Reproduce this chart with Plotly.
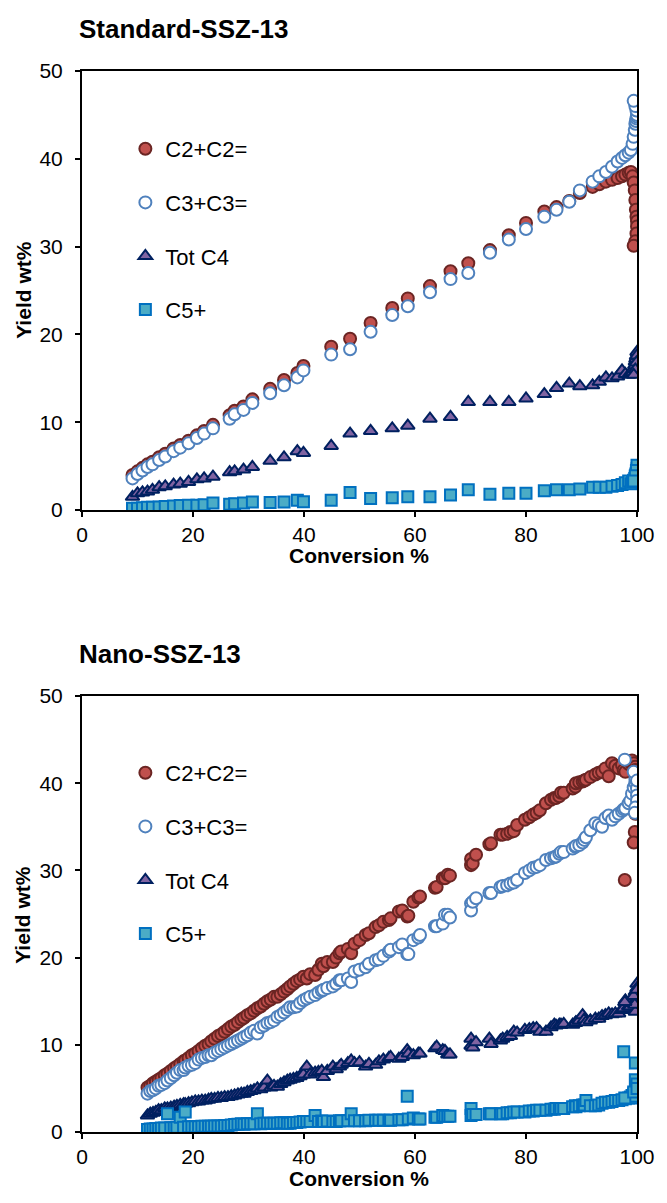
import plotly.graph_objects as go

# ---------------- data: Standard-SSZ-13 ----------------
conv_std = [9.1, 10.0, 10.9, 11.8, 12.7, 13.9, 15.0, 16.5, 17.7, 19.2,
            20.7, 22.0, 23.6, 26.6, 27.5, 29.1, 30.7, 33.9, 36.4, 38.8,
            39.9, 44.9, 48.3, 52.0, 55.9, 58.7, 62.7, 66.4, 69.6, 73.5,
            76.9, 80.0, 83.3, 85.5, 87.8, 89.7, 92.0, 93.2, 94.4, 95.5,
            96.5, 97.3, 97.9, 98.5, 98.9, 99.2, 99.4, 99.6, 99.7, 99.8,
            99.9, 100.0, 100.0, 99.9, 99.7, 99.4]
c2_std = [4.0, 4.4, 4.8, 5.2, 5.5, 6.0, 6.4, 7.0, 7.4, 7.9,
          8.5, 9.0, 9.7, 10.8, 11.3, 11.8, 12.6, 13.8, 14.8, 15.6,
          16.4, 18.6, 19.5, 21.3, 23.0, 24.1, 25.5, 27.2, 28.1, 29.6,
          31.3, 32.7, 34.0, 34.5, 35.2, 36.1, 36.8, 37.1, 37.4, 37.6,
          37.8, 38.0, 38.2, 38.4, 38.5, 38.0, 37.3, 36.4, 35.3, 34.2,
          33.4, 32.9, 32.3, 31.5, 30.6, 30.1]
c3_std = [3.6, 4.1, 4.5, 4.9, 5.2, 5.7, 6.1, 6.7, 7.1, 7.6,
          8.2, 8.7, 9.3, 10.4, 10.9, 11.4, 12.2, 13.3, 14.2, 15.1,
          15.9, 17.7, 18.3, 20.3, 22.2, 23.2, 24.8, 26.3, 27.0, 29.3,
          30.8, 32.0, 33.4, 34.2, 35.1, 36.4, 37.4, 38.0, 38.5, 39.1,
          39.7, 40.1, 40.4, 40.7, 41.0, 41.7, 42.5, 43.3, 44.0, 44.3,
          44.6, 44.8, 45.0, 45.5, 46.0, 46.6]
c4_std = [1.5, 1.9, 2.0, 2.1, 2.3, 2.6, 2.7, 2.9, 3.0, 3.2,
          3.5, 3.6, 3.8, 4.3, 4.4, 4.6, 4.9, 5.6, 6.0, 6.7,
          6.5, 7.3, 8.7, 9.0, 9.3, 9.6, 10.4, 10.6, 12.3, 12.3,
          12.3, 12.7, 13.2, 13.9, 14.4, 14.1, 14.2, 14.6, 15.1, 15.0,
          15.2, 15.9, 15.5, 15.4, 15.5, 15.7, 16.1, 16.5, 16.9, 17.2,
          17.5, 18.0, 17.6, 16.8, 16.0, 15.4]
c5_std = [0.2, 0.2, 0.25, 0.3, 0.3, 0.35, 0.4, 0.45, 0.5, 0.55,
          0.55, 0.6, 0.8, 0.65, 0.7, 0.8, 0.9, 0.85, 0.9, 1.1,
          0.95, 1.1, 2.0, 1.3, 1.4, 1.5, 1.5, 1.7, 2.3, 1.8,
          1.9, 1.9, 2.2, 2.3, 2.3, 2.4, 2.6, 2.6, 2.6, 2.7,
          2.8, 2.9, 3.1, 3.3, 3.0, 3.2, 3.4, 3.6, 3.8, 4.1,
          4.4, 4.7, 5.1, 4.5, 3.9, 3.3]

# ---------------- data: Nano-SSZ-13 ----------------
conv_nano = [11.8, 12.3, 12.8, 13.3, 13.8, 14.3, 14.9, 15.4, 16.0, 16.6,
             17.1, 17.7, 18.3, 18.6, 19.2, 19.8, 20.4, 21.0, 21.6, 22.2,
             22.8, 23.3, 23.9, 24.5, 25.1, 25.7, 26.3, 26.9, 27.5, 28.1,
             28.7, 29.2, 29.8, 30.4, 31.0, 31.6, 32.2, 32.8, 33.4, 34.0,
             34.6, 35.2, 35.8, 36.4, 37.0, 37.5, 38.1, 38.7, 39.3, 39.9,
             40.5, 41.1, 42.0, 42.6, 43.2, 43.5, 44.2, 45.2, 45.8, 46.4,
             46.7, 47.9, 48.5, 49.1, 50.0, 51.1, 51.7, 52.9, 53.5, 54.3,
             55.3, 55.6, 57.1, 57.7, 58.6, 58.8, 59.7, 60.6, 60.9, 63.6,
             63.9, 65.0, 65.4, 65.9, 66.3, 70.1, 70.1, 70.4, 71.0, 73.4,
             73.7, 75.4, 75.8, 76.6, 77.2, 77.8, 78.4, 79.8, 80.6, 81.3,
             81.9, 82.5, 83.6, 84.5, 85.1, 85.4, 86.0, 86.3, 86.8, 88.4,
             88.9, 89.0, 89.6, 90.2, 90.5, 90.8, 91.6, 92.5, 93.1, 93.7,
             94.3, 94.9, 95.5, 96.1, 96.7, 97.3, 97.6, 97.9, 98.5, 98.8,
             99.1, 99.4, 99.7, 99.7, 100.0, 100.0, 100.0, 100.0, 99.7, 99.6,
             97.8, 99.4, 100.0]
c2_nano = [5.1, 5.3, 5.6, 5.8, 6.0, 6.2, 6.5, 6.7, 7.0, 7.3,
           7.5, 7.8, 8.1, 8.2, 8.5, 8.8, 9.0, 9.3, 9.6, 9.9,
           10.1, 10.4, 10.7, 11.0, 11.2, 11.5, 11.8, 12.1, 12.3, 12.6,
           12.9, 13.1, 13.4, 13.6, 13.9, 14.2, 14.4, 14.7, 15.0, 15.2,
           15.5, 15.5, 15.8, 16.1, 16.4, 16.7, 17.0, 17.3, 17.5, 17.8,
           17.6, 18.1, 18.0, 18.6, 19.3, 19.0, 19.5, 19.5, 20.0, 20.5,
           20.7, 21.0, 20.5, 21.6, 22.0, 22.6, 22.8, 23.5, 23.7, 24.1,
           24.3, 24.5, 25.3, 25.4, 24.7, 24.8, 26.4, 26.9, 27.0, 28.0,
           28.1, 29.1, 29.1, 29.5, 29.4, 31.3, 30.6, 30.8, 31.8, 33.0,
           33.1, 34.1, 34.1, 34.2, 34.4, 34.5, 35.2, 35.8, 36.1, 36.4,
           36.6, 36.9, 37.7, 38.1, 38.3, 38.3, 38.5, 38.9, 38.9, 39.4,
           39.6, 40.0, 40.1, 40.2, 40.3, 40.4, 40.7, 41.0, 41.2, 41.3,
           41.7, 40.8, 42.3, 42.0, 41.7, 42.1, 41.5, 41.3, 42.2, 42.4,
           42.6, 42.3, 41.9, 41.5, 41.1, 40.4, 38.5, 37.6, 36.5, 34.4,
           28.9, 33.2, 39.5]
c3_nano = [4.4, 4.7, 4.8, 5.0, 5.3, 5.4, 5.6, 5.9, 6.2, 6.5,
           6.8, 7.1, 7.1, 7.4, 7.6, 7.7, 7.9, 8.3, 8.5, 8.6,
           8.8, 8.8, 9.1, 9.3, 9.5, 9.7, 9.9, 10.1, 10.3, 10.5,
           10.7, 10.9, 11.1, 11.4, 11.6, 11.3, 12.0, 12.2, 12.5, 12.6,
           12.8, 13.2, 13.4, 13.7, 14.0, 14.3, 14.3, 14.4, 14.8, 15.1,
           15.3, 15.5, 15.7, 16.0, 16.2, 16.3, 16.5, 16.7, 17.0, 17.4,
           17.4, 17.6, 17.2, 18.4, 18.6, 18.9, 19.3, 19.7, 19.8, 20.2,
           20.7, 20.9, 21.2, 21.5, 20.4, 20.4, 22.0, 22.3, 22.6, 23.6,
           23.6, 23.9, 24.9, 24.9, 24.6, 26.2, 25.4, 26.4, 26.8, 27.4,
           27.4, 28.1, 28.2, 28.3, 28.5, 28.6, 28.9, 29.7, 30.0, 30.3,
           30.4, 30.6, 31.2, 31.4, 31.5, 31.6, 31.9, 32.1, 32.1, 32.5,
           32.7, 32.8, 32.9, 33.2, 33.5, 33.8, 34.6, 35.4, 35.2, 35.0,
           36.0, 36.3, 35.8, 36.2, 36.5, 36.8, 37.0, 37.1, 37.7, 38.0,
           38.8, 39.5, 40.0, 40.5, 41.1, 39.4, 38.6, 38.0, 37.2, 36.6,
           42.7, 41.3, 40.3]
c4_nano = [1.9, 2.1, 2.2, 2.3, 2.5, 2.5, 2.7, 2.7, 2.8, 2.9,
           3.0, 3.1, 3.2, 3.2, 3.3, 3.4, 3.5, 3.5, 3.6, 3.6,
           3.7, 3.8, 3.8, 3.9, 3.9, 4.0, 4.0, 4.1, 4.2, 4.3,
           4.4, 4.4, 4.6, 4.7, 4.8, 5.0, 4.9, 5.1, 5.9, 5.1,
           5.3, 5.2, 5.5, 5.7, 5.9, 6.0, 6.1, 6.2, 6.4, 6.6,
           7.5, 6.6, 6.8, 6.9, 7.0, 6.3, 7.0, 7.5, 7.2, 7.5,
           7.7, 7.9, 8.2, 7.9, 8.0, 7.5, 7.8, 7.7, 8.1, 8.3,
           8.5, 8.6, 8.4, 8.6, 9.4, 9.0, 8.8, 9.0, 9.0, 9.6,
           9.8, 9.4, 9.3, 8.9, 8.9, 10.7, 9.9, 9.7, 10.3, 10.7,
           10.1, 10.5, 10.7, 10.9, 11.0, 11.5, 11.4, 11.7, 11.8, 11.9,
           11.9, 11.5, 11.5, 12.0, 12.3, 12.2, 12.3, 12.3, 12.4, 12.3,
           12.5, 12.6, 12.8, 13.4, 12.9, 12.6, 12.8, 13.0, 13.0, 13.3,
           13.4, 13.6, 13.5, 13.6, 13.6, 14.0, 14.2, 15.1, 14.4, 14.4,
           14.8, 15.2, 16.1, 15.6, 17.0, 16.5, 15.9, 15.3, 13.8, 14.6,
           14.9, 15.6, 16.3]
c5_nano = [0.3, 0.35, 0.35, 0.4, 0.4, 0.45, 0.45, 2.1, 0.5, 0.5,
           0.55, 1.7, 0.55, 2.3, 0.6, 0.6, 0.6, 0.6, 0.65, 0.65,
           0.65, 0.65, 0.7, 0.7, 0.7, 0.75, 0.75, 0.8, 0.85, 0.9,
           0.95, 0.9, 0.95, 0.95, 0.95, 2.1, 0.95, 1.0, 1.0, 1.0,
           1.0, 1.0, 1.05, 1.05, 1.0, 1.0, 1.1, 1.1, 1.15, 1.2,
           1.2, 1.2, 1.9, 1.2, 1.25, 1.2, 1.25, 1.2, 1.2, 1.3,
           1.3, 1.3, 2.1, 1.3, 1.3, 1.3, 1.35, 1.35, 1.35, 1.35,
           1.35, 1.35, 1.4, 1.4, 4.1, 1.5, 1.6, 1.5, 1.5, 1.7,
           1.7, 1.9, 1.8, 1.8, 1.8, 2.7, 1.9, 2.0, 2.0, 2.1,
           2.1, 2.1, 2.1, 2.2, 2.2, 2.3, 2.3, 2.3, 2.4, 2.4,
           2.5, 2.5, 2.5, 2.6, 2.6, 2.7, 2.7, 2.7, 2.7, 2.9,
           3.0, 2.9, 3.0, 3.1, 3.1, 3.6, 3.0, 3.0, 3.1, 3.3,
           3.4, 3.4, 3.5, 3.6, 3.6, 3.7, 9.2, 3.8, 3.9, 4.0,
           4.2, 4.4, 7.9, 6.0, 5.2, 4.5, 4.8, 5.5, 3.9, 4.1,
           3.9, 4.6, 5.0]

series_names = ["C2+C2=", "C3+C3=", "Tot C4", "C5+"]
titles = ["Standard-SSZ-13", "Nano-SSZ-13"]
x_ticks = [0, 20, 40, 60, 80, 100]
y_ticks = [0, 10, 20, 30, 40, 50]

styles = [
    dict(symbol="circle", size=12, color="#C0504D", line=dict(color="#6B2523", width=2)),
    dict(symbol="circle", size=12, color="#FFFFFF", line=dict(color="#4F81BD", width=2)),
    dict(symbol="triangle-up", size=12, color="#8064A2", line=dict(color="#002060", width=2)),
    dict(symbol="square", size=11, color="#4BACC6", line=dict(color="#0070C0", width=2)),
]

# the page body has an 8px margin, so the figure starts 8px in from the window corner
OFF = 8
WIN_W, WIN_H = 667, 1203
W, H = WIN_W - OFF, WIN_H - OFF
PLOT_L, PLOT_R, PLOT_T, PLOT_B = 82, 645, 71, 1132  # target plot frame in window px
L, R, T, B = PLOT_L - OFF, WIN_W - PLOT_R, PLOT_T - OFF, WIN_H - PLOT_B
PW, PH = W - L - R, H - T - B


def px_x(p):
    return (p - PLOT_L) / PW


def px_y(p):
    return (PLOT_B - p) / PH


fig = go.Figure()
FONT = "Liberation Sans, Arial, sans-serif"
FS = 21

panels = [
    (conv_std, [c2_std, c3_std, c4_std, c5_std], "x", "y", "legend"),
    (conv_nano, [c2_nano, c3_nano, c4_nano, c5_nano], "x2", "y2", "legend2"),
]
for pi, (cx, ys, xa, ya, lg) in enumerate(panels):
    for si, (name, yv) in enumerate(zip(series_names, ys)):
        fig.add_trace(go.Scatter(
            x=cx, y=yv, mode="markers", name=name, marker=styles[si],
            xaxis=xa, yaxis=ya, legend=lg, legendgroup=f"{pi}-{si}",
        ))

axis_common = dict(
    showline=True, linecolor="black", linewidth=2, mirror=True,
    ticks="outside", ticklen=5, tickwidth=2, tickcolor="black",
    showgrid=False, zeroline=False,
    tickfont=dict(family=FONT, size=FS, color="black"),
)

top_dom = [px_y(510), px_y(71)]
bot_dom = [px_y(1132), px_y(696)]

legend_common = dict(xanchor="left", yanchor="top",
                     font=dict(family=FONT, size=22, color="black"),
                     tracegroupgap=22, bgcolor="rgba(0,0,0,0)")

fig.update_layout(
    width=W, height=H,
    margin=dict(l=L, r=R, t=T, b=B),
    paper_bgcolor="white", plot_bgcolor="white",
    font=dict(family=FONT, color="black"),
    xaxis=dict(range=[0, 100], tickvals=x_ticks, domain=[0, 1], anchor="y", **axis_common),
    yaxis=dict(range=[0, 50], tickvals=y_ticks, domain=top_dom, anchor="x",
               ticklabelstandoff=8, **axis_common),
    xaxis2=dict(range=[0, 100], tickvals=x_ticks, domain=[0, 1], anchor="y2", **axis_common),
    yaxis2=dict(range=[0, 50], tickvals=y_ticks, domain=bot_dom, anchor="x2",
                ticklabelstandoff=8, **axis_common),
    legend=dict(x=px_x(126), y=px_y(128), **legend_common),
    legend2=dict(x=px_x(126), y=px_y(752), **legend_common),
    showlegend=True,
)

ann = []
for t, ty in zip(titles, [29, 654]):
    ann.append(dict(text=f"<b>{t}</b>", x=px_x(77), y=px_y(ty), xref="paper", yref="paper",
                    xanchor="left", yanchor="middle", showarrow=False,
                    font=dict(family=FONT, size=26, color="black")))
for cy in [290, 915]:
    ann.append(dict(text="<b>Yield wt%</b>", x=px_x(22), y=px_y(cy), xref="paper", yref="paper",
                    xanchor="center", yanchor="middle", showarrow=False, textangle=-90,
                    font=dict(family=FONT, size=FS, color="black")))
for cy in [555, 1178]:
    ann.append(dict(text="<b>Conversion %</b>", x=px_x(363), y=px_y(cy), xref="paper", yref="paper",
                    xanchor="center", yanchor="middle", showarrow=False,
                    font=dict(family=FONT, size=FS, color="black")))
fig.update_layout(annotations=ann)

fig.write_html("out.html")
